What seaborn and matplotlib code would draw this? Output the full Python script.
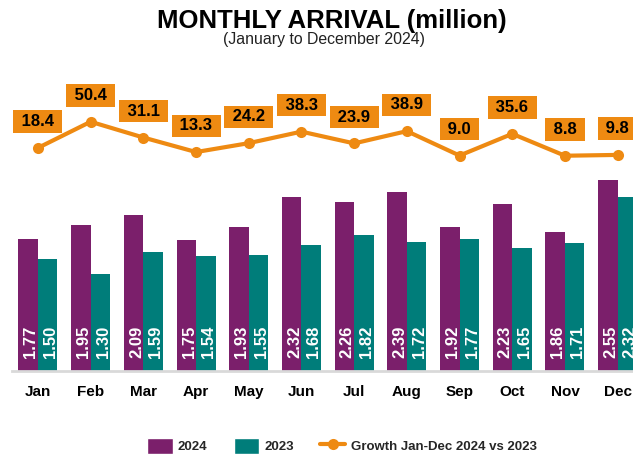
import numpy as np
import pandas as pd
import matplotlib.pyplot as plt
import seaborn as sns
from matplotlib.patches import Patch
from matplotlib.lines import Line2D

# data
MONTHS = ["Jan", "Feb", "Mar", "Apr", "May", "Jun",
          "Jul", "Aug", "Sep", "Oct", "Nov", "Dec"]
ARRIVAL_2024 = [1.77, 1.95, 2.09, 1.75, 1.93, 2.32, 2.26, 2.39, 1.92, 2.23, 1.86, 2.55]
ARRIVAL_2023 = [1.50, 1.30, 1.59, 1.54, 1.55, 1.68, 1.82, 1.72, 1.77, 1.65, 1.71, 2.32]
GROWTH = [18.4, 50.4, 31.1, 13.3, 24.2, 38.3, 23.9, 38.9, 9.0, 35.6, 8.8, 9.8]
YEARS = ["2024", "2023"]

PURPLE = "#7B1F6B"
TEAL = "#007D7A"
ORANGE = "#EE8A12"

sns.set_theme(style="white")
plt.rcParams["font.family"] = ["Liberation Sans", "DejaVu Sans"]

df = pd.DataFrame({
    "month": MONTHS * 2,
    "year": [YEARS[0]] * 12 + [YEARS[1]] * 12,
    "value": ARRIVAL_2024 + ARRIVAL_2023,
})

fig = plt.figure(figsize=(6.33, 4.54), dpi=100)
ax = fig.add_axes([11.6 / 633, 83 / 454, 632.4 / 633, 291 / 454])

sns.barplot(data=df, x="month", y="value", hue="year", order=MONTHS,
            hue_order=YEARS, palette={YEARS[0]: PURPLE, YEARS[1]: TEAL},
            width=0.74, saturation=1, edgecolor="none", legend=False, ax=ax)
ax.set_xlim(-0.5, 11.5)
ax.set_ylim(0, 3.89)

# value labels inside the bars
for cont in ax.containers:
    for bar, v in zip(cont, cont.datavalues):
        ax.annotate(f"{v:.2f}", (bar.get_x() + bar.get_width() / 2, 0),
                    xytext=(2, 9.5), textcoords="offset points",
                    rotation=90, ha="center", va="bottom",
                    color="white", fontsize=12, fontweight="bold")

ax.set_xlabel("")
ax.set_ylabel("")
ax.set_yticks([])
ax.tick_params(axis="x", length=0, pad=10)
for lab in ax.get_xticklabels():
    lab.set_fontweight("bold")
    lab.set_fontsize(11)
    lab.set_color("black")
for s in ["left", "right", "top"]:
    ax.spines[s].set_visible(False)
ax.spines["bottom"].set_color("#D9D9D9")
ax.spines["bottom"].set_linewidth(2)

# growth line on a second axis
ax2 = ax.twinx()
pos = np.arange(len(MONTHS))
sns.lineplot(x=pos, y=GROWTH, ax=ax2, color=ORANGE, linewidth=3,
             marker="o", markersize=8, markeredgewidth=0)
ax2.set_ylim(-254.7, 101.5)
ax2.set_xlim(-0.5, 11.5)
ax2.set_yticks([])
for s in ax2.spines.values():
    s.set_visible(False)
for x, g in zip(pos, GROWTH):
    ax2.annotate(f" {g:.1f} ", (x, g), xytext=(0, 19), textcoords="offset points",
                 ha="center", va="center", fontsize=12, fontweight="bold",
                 color="black",
                 bbox=dict(boxstyle="square,pad=0.22", fc=ORANGE, ec="none"))

fig.text(0.524, 0.938, "MONTHLY ARRIVAL (million)", ha="center", va="baseline",
         fontsize=18.5, fontweight="bold", color="black")
fig.text(0.512, 0.903, "(January to December 2024)", ha="center", va="baseline",
         fontsize=11.4, color="#222222")

handles = [Patch(facecolor=PURPLE, label="2024"),
           Patch(facecolor=TEAL, label="2023"),
           Line2D([0], [0], color=ORANGE, lw=3, marker="o", markersize=8,
                  markeredgewidth=0, label="Growth Jan-Dec 2024 vs 2023")]
leg = fig.legend(handles=handles, loc="center", ncol=3, frameon=False,
                 bbox_to_anchor=(342 / 633, 8 / 454), handlelength=1.9,
                 handleheight=1.6, handletextpad=0.4, columnspacing=2.0,
                 prop={"weight": "bold", "size": 9.5})

fig.savefig("out.png", dpi=100)
